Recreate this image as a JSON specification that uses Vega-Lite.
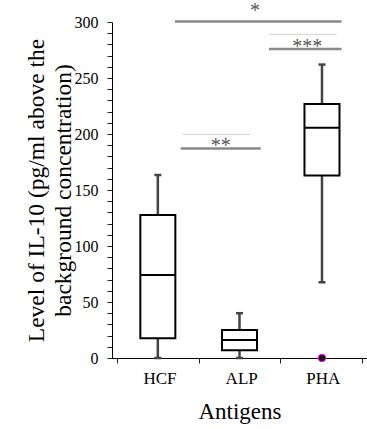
{
  "$schema": "https://vega.github.io/schema/vega-lite/v6.json",
  "width": 255,
  "height": 336,
  "autosize": "none",
  "padding": {"left": 112, "top": 22, "right": 0, "bottom": 71},
  "config": {
    "font": "Liberation Serif",
    "view": {"stroke": null},
    "axis": {"grid": false, "ticks": true, "tickWidth": 1, "tickSize": 5, "tickColor": "black", "tickOpacity": 1, "domainColor": "black", "labelColor": "black", "labelOverlap": false, "labelFlush": false, "labelBound": false, "titleFontWeight": "normal", "titleColor": "black"},
    "axisX": {"labelOffset": 42.5, "labelPadding": 7, "labelFontSize": 17, "titleFontSize": 23, "titlePadding": 14},
    "axisY": {"labelPadding": 9, "labelFontSize": 16, "titleFontSize": 23.5, "titleLineHeight": 27, "titlePadding": -1}
  },
  "datasets": {
    "boxes": [
      {"antigen": "HCF", "pos": 0.5, "lower": 0, "q1": 17.6, "median": 74, "q3": 127.7, "upper": 163.4},
      {"antigen": "ALP", "pos": 1.5, "lower": 0, "q1": 7, "median": 16, "q3": 25, "upper": 40},
      {"antigen": "PHA", "pos": 2.51, "lower": 67.6, "q1": 163, "median": 205.6, "q3": 226.8, "upper": 262}
    ]
  },
  "encoding": {
    "x": {"type": "quantitative", "scale": {"domain": [0, 3], "nice": false, "zero": false},
      "axis": {"tickCount": 3, "ticks": true, "tickSize": 5, "tickWidth": 1, "tickColor": "#222222", "labelExpr": "datum.value == 0 ? 'HCF' : datum.value == 1 ? 'ALP' : datum.value == 2 ? 'PHA' : ''", "title": "Antigens", "labelOverlap": false}},
    "y": {"type": "quantitative", "scale": {"domain": [0, 300], "nice": false},
      "axis": {"tickCount": 30, "ticks": true, "tickSize": 5, "tickWidth": 1, "tickColor": "#222222", "labelExpr": "datum.value % 50 == 0 ? datum.label : ''", "labelOverlap": false, "title": ["Level of IL-10 (pg/ml above the", "background concentration)"]}}
  },
  "layer": [
    {
      "data": {"name": "boxes"},
      "mark": {"type": "rule", "color": "#444444", "strokeWidth": 2.5},
      "encoding": {
        "x": {"field": "pos"},
        "y": {"field": "lower"},
        "y2": {"field": "upper"}
      }
    },
    {
      "data": {"name": "boxes"},
      "mark": {"type": "bar", "width": 35, "fill": "white", "stroke": "black", "strokeWidth": 2},
      "encoding": {
        "x": {"field": "pos"},
        "y": {"field": "q1"},
        "y2": {"field": "q3"}
      }
    },
    {
      "data": {"name": "boxes"},
      "mark": {"type": "tick", "orient": "horizontal", "size": 35, "thickness": 2, "color": "black", "opacity": 1},
      "encoding": {
        "x": {"field": "pos"},
        "y": {"field": "median"}
      }
    },
    {
      "data": {"name": "boxes"},
      "mark": {"type": "tick", "orient": "horizontal", "size": 7, "thickness": 2.5, "color": "#444444", "opacity": 1},
      "encoding": {
        "x": {"field": "pos"},
        "y": {"field": "upper"}
      }
    },
    {
      "data": {"name": "boxes"},
      "mark": {"type": "tick", "orient": "horizontal", "size": 7, "thickness": 2.5, "color": "#444444", "opacity": 1},
      "encoding": {
        "x": {"field": "pos"},
        "y": {"field": "lower"}
      }
    },
    {
      "data": {"values": [
        {"start": 0.71, "end": 2.75, "level": 300.5, "kind": "main"},
        {"start": 1.86, "end": 2.69, "level": 289, "kind": "thin"},
        {"start": 1.86, "end": 2.75, "level": 276, "kind": "main"},
        {"start": 0.8, "end": 1.63, "level": 199.7, "kind": "thin"},
        {"start": 0.78, "end": 1.76, "level": 187, "kind": "main"}
      ]},
      "mark": {"type": "rule"},
      "encoding": {
        "x": {"field": "start"},
        "x2": {"field": "end"},
        "y": {"field": "level"},
        "color": {"field": "kind", "type": "nominal", "scale": {"domain": ["main", "thin"], "range": ["#8a8a8a", "#d2d2d2"]}, "legend": null},
        "strokeWidth": {"field": "kind", "type": "nominal", "scale": {"domain": ["main", "thin"], "range": [2.5, 1]}, "legend": null}
      }
    },
    {
      "data": {"values": [
        {"label": "*", "at": 1.69, "level": 310},
        {"label": "***", "at": 2.33, "level": 278},
        {"label": "**", "at": 1.27, "level": 189}
      ]},
      "mark": {"type": "text", "fontSize": 20, "color": "#555555", "baseline": "middle", "align": "center"},
      "encoding": {
        "x": {"field": "at"},
        "y": {"field": "level"},
        "text": {"field": "label"}
      }
    },
    {
      "data": {"values": [{"pos": 2.51, "value": 0}]},
      "mark": {"type": "point", "filled": true, "fill": "#1a0010", "stroke": "#ff00ff", "strokeWidth": 1, "size": 55, "opacity": 1},
      "encoding": {
        "x": {"field": "pos"},
        "y": {"field": "value"}
      }
    }
  ]
}
